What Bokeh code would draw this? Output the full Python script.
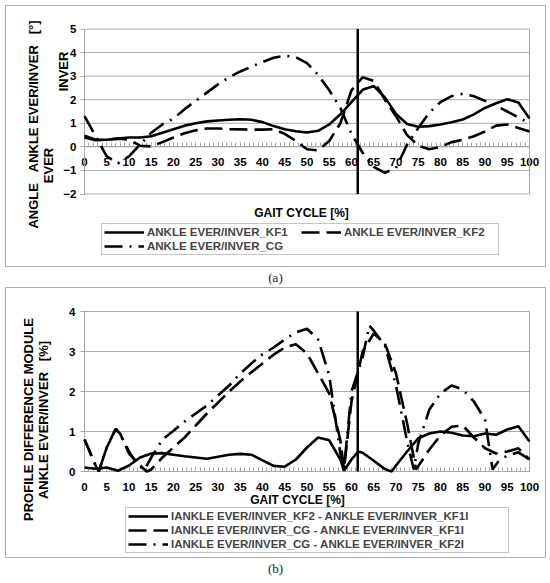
from bokeh.plotting import figure
from bokeh.models import Legend, LegendItem, SingleIntervalTicker, Range1d, LinearAxis, Label
from bokeh.core.properties import value
from bokeh.layouts import column
from bokeh.embed import file_html
from bokeh.resources import INLINE

# ---------------- data : panel (a) ----------------
gait_a = [0, 2.5, 5, 7.5, 10, 12.5, 15, 17.5, 20, 22.5, 25, 27.5, 30, 32.5, 35, 37.5, 40,
          42.5, 45, 47.5, 50, 52.5, 55, 57.5, 60, 62.5, 65, 67.5, 70, 72.5, 75, 77.5, 80,
          82.5, 85, 87.5, 90, 92.5, 95, 97.5, 100]
kf1 = [0.47, 0.30, 0.30, 0.35, 0.40, 0.40, 0.45, 0.60, 0.75, 0.90, 1.00, 1.08, 1.12, 1.15,
       1.17, 1.15, 1.05, 0.88, 0.75, 0.66, 0.61, 0.68, 0.95, 1.38, 1.90, 2.42, 2.58, 2.10,
       1.40, 0.97, 0.85, 0.88, 0.95, 1.04, 1.16, 1.38, 1.65, 1.85, 2.02, 1.88, 1.20]
kf2 = [0.40, 0.28, 0.30, 0.35, 0.30, 0.05, 0.02, 0.20, 0.40, 0.58, 0.70, 0.78, 0.78, 0.75,
       0.74, 0.73, 0.73, 0.75, 0.55, 0.25, -0.10, -0.15, 0.25, 1.00, 2.40, 2.95, 2.80, 2.00,
       1.30, 0.50, 0.05, -0.10, 0.00, 0.20, 0.30, 0.45, 0.65, 0.90, 0.95, 0.80, 0.65]
cg = [1.30, 0.45, -0.40, -0.70, -0.40, 0.10, 0.60, 0.95, 1.20, 1.60, 1.95, 2.30, 2.65, 2.95,
      3.20, 3.40, 3.60, 3.78, 3.87, 3.80, 3.55, 3.05, 2.40, 1.65, 0.55, -0.25, -0.85, -1.10,
      -0.90, 0.10, 0.80, 1.45, 1.90, 2.15, 2.25, 2.15, 1.95, 1.75, 1.50, 1.25, 1.00]

# ---------------- data : panel (b) ----------------
gait_b1 = [0, 2.5, 5, 7.5, 10, 12.5, 15, 17.5, 20, 22.5, 25, 27.5, 30, 32.5, 35, 37.5, 40,
           42.5, 45, 47.5, 50, 52.5, 55, 57.5, 58.3, 60, 61.5, 62.5, 65, 67.5, 69, 70, 72.5,
           75, 77.5, 80, 82.5, 85, 87.5, 90, 92.5, 95, 97.5, 100]
diff_kf2_kf1 = [0.10, 0.07, 0.10, 0.02, 0.15, 0.35, 0.45, 0.46, 0.42, 0.38, 0.35, 0.32, 0.37,
                0.42, 0.44, 0.42, 0.28, 0.14, 0.12, 0.30, 0.60, 0.85, 0.78, 0.30, 0.02, 0.30,
                0.50, 0.47, 0.27, 0.06, 0.00, 0.15, 0.50, 0.83, 0.95, 1.00, 0.97, 0.90, 0.88,
                0.95, 0.92, 1.05, 1.13, 0.75]
gait_b2 = [0, 2.5, 3.2, 5, 7, 8, 10, 12.5, 14, 15, 17.5, 20, 22.5, 25, 27.5, 30, 32.5, 35,
           37.5, 40, 42.5, 45, 47.5, 50, 52.5, 55, 57.5, 58.3, 60, 62.5, 65, 67.5, 70, 72.5,
           74.5, 77.5, 80, 82.5, 85, 87.5, 90, 92.5, 95, 97.5, 100]
diff_cg_kf1 = [0.80, 0.15, 0.00, 0.60, 1.05, 0.95, 0.45, 0.15, 0.00, 0.05, 0.35, 0.60, 0.85,
               1.15, 1.45, 1.72, 2.00, 2.25, 2.48, 2.70, 2.92, 3.10, 3.18, 2.95, 2.45, 1.95,
               0.78, 0.05, 1.75, 3.00, 3.45, 3.20, 2.45, 1.20, 0.05, 0.55, 0.90, 1.12, 1.15,
               0.85, 0.58, 0.45, 0.50, 0.58, 0.30]
gait_b3 = [0, 2.5, 3.2, 5, 7, 8, 10, 12, 13.5, 15, 17.5, 20, 22.5, 25, 27.5, 30, 32.5, 35,
           37.5, 40, 42.5, 45, 47.5, 50, 52.5, 55, 57.5, 58.3, 60, 62.5, 64, 65, 67.5, 70,
           72.5, 74, 75, 77.5, 80, 82.5, 85, 87.5, 90, 91.7, 93, 95, 97.5, 100]
diff_cg_kf2 = [0.80, 0.15, 0.00, 0.60, 1.07, 0.95, 0.50, 0.15, 0.05, 0.35, 0.80, 1.02, 1.25,
               1.45, 1.65, 1.90, 2.15, 2.45, 2.70, 2.93, 3.10, 3.30, 3.48, 3.57, 3.30, 2.40,
               0.45, 0.05, 2.00, 2.85, 3.65, 3.52, 3.15, 2.15, 0.75, 0.05, 0.70, 1.55, 1.95,
               2.15, 2.05, 1.75, 1.30, 0.05, 0.25, 0.40, 0.48, 0.30]

toe_off = 61.4  # vertical marker, % gait cycle

XLIM = (0, 100)
YLIM_A = (-2, 5)
YLIM_B = (0, 4)

NB = "\u00a0"
labels_a = ["ANKLE EVER/INVER_KF1", "ANKLE EVER/INVER_KF2", "ANKLE EVER/INVER_CG"]
labels_b = ["IANKLE EVER/INVER_KF2 - ANKLE EVER/INVER_KF1I",
            "IANKLE EVER/INVER_CG - ANKLE EVER/INVER_KF1I",
            "IANKLE EVER/INVER_CG - ANKLE EVER/INVER_KF2I"]
ytitle_a = [f"ANGLE{NB * 3}ANKLE EVER/INVER{NB * 3}[°]", "EVER", "INVER"]
ytitle_b = ["PROFILE DIFFERENCE MODULE", f"ANKLE EVER/INVER{NB * 3}[%]"]
xtitle = "GAIT CYCLE [%]"
captions = ["(a)", "(b)"]

FONT = "Liberation Sans"
GRID = "#a9a9a9"
DASHES = ["solid", "18 7", "18 7 2 7"]
LW = 2.6
W = 542
ORIGIN = 4                      # page offset of the block
PX_X0, PX_X1 = 84, 529          # page x of gait 0 and 100


class Panel:
    """One boxed panel; its frame is the whole box, the plot area is drawn inside it."""

    def __init__(self, top, height, ylim, py_lo, py_hi):
        self.top, self.h = top, height
        self.sx = (XLIM[1] - XLIM[0]) / (PX_X1 - PX_X0)
        self.sy = (ylim[1] - ylim[0]) / (py_lo - py_hi)
        self.py_lo, self.ylo = py_lo, ylim[0]
        fl, fr = ORIGIN + 1, ORIGIN + W - 1
        ft, fb = top + 1, top + height - 1
        xr = Range1d(self.px(fl), self.px(fr))
        yr = Range1d(self.py(fb), self.py(ft))
        p = figure(width=W, height=height, x_range=xr, y_range=yr, output_backend="svg",
                   toolbar_location=None, x_axis_type=None, y_axis_type=None, min_border=1)
        p.outline_line_color = GRID
        p.outline_line_width = 1
        p.grid.visible = False
        self.p = p

    def px(self, page_x):
        return XLIM[0] + (page_x - PX_X0) * self.sx

    def py(self, page_y):
        return self.ylo + (self.py_lo - page_y) * self.sy

    def text(self, page_x, page_y, t, angle=0, size="12px"):
        self.p.add_layout(Label(x=self.px(page_x), y=self.py(page_y), text=t, angle=angle,
                                angle_units="deg", text_align="center",
                                text_baseline="middle", text_font=FONT,
                                text_font_style="bold", text_font_size=size,
                                text_color="black"))


def style_axis(ax):
    ax.axis_line_color = GRID
    ax.major_tick_line_color = GRID
    ax.minor_tick_line_color = GRID
    ax.major_label_text_font = FONT
    ax.major_label_text_font_style = "bold"
    ax.major_label_text_font_size = "11.5px"
    ax.major_label_text_color = "black"
    ax.level = "underlay"


def build(panel, ylim, xfix, series, ylab_standoff):
    p = panel.p
    ticks = list(range(ylim[0] + 1, ylim[1]))
    p.segment(x0=XLIM[0], x1=XLIM[1], y0=ticks, y1=ticks, line_color=GRID, line_width=1)
    p.quad(left=[XLIM[0]], right=[XLIM[1]], bottom=[ylim[0]], top=[ylim[1]],
           fill_alpha=0, line_color=GRID, line_width=1)
    yax = LinearAxis(fixed_location=XLIM[0], bounds=ylim,
                     ticker=SingleIntervalTicker(interval=1, num_minor_ticks=0))
    style_axis(yax)
    yax.major_tick_out, yax.major_tick_in, yax.minor_tick_out = 4, 0, 0
    yax.major_label_standoff = ylab_standoff
    p.add_layout(yax, "left")
    xax = LinearAxis(fixed_location=xfix, bounds=XLIM,
                     ticker=SingleIntervalTicker(interval=5, num_minor_ticks=5))
    style_axis(xax)
    xax.major_tick_in, xax.major_tick_out = 4, 0
    xax.minor_tick_in, xax.minor_tick_out = 4, 0
    xax.major_label_standoff = 11
    p.add_layout(xax, "below")
    rs = [p.line(x, y, line_color="black", line_width=LW, line_dash=d)
          for (x, y), d in zip(series, DASHES)]
    p.segment(x0=[toe_off], x1=[toe_off], y0=[ylim[0]], y1=[ylim[1]],
              line_color="black", line_width=2.5)
    return rs


def legend(panel, items, loc, label_width, **kw):
    lg = Legend(items=items, location=loc,
                border_line_color="#8c8c8c", border_line_width=1, padding=2, spacing=2,
                margin=0, glyph_width=40, glyph_height=12, label_height=12,
                label_width=label_width, label_standoff=3, label_text_font=FONT,
                label_text_font_style="bold", label_text_font_size="11.5px",
                background_fill_alpha=1, **kw)
    panel.p.add_layout(lg, "center")


def caption(t):
    c = figure(width=W, height=19, x_range=Range1d(0, 1), y_range=Range1d(0, 1),
               output_backend="svg", toolbar_location=None, min_border=0,
               x_axis_type=None, y_axis_type=None)
    c.grid.visible = False
    c.outline_line_color = None
    c.text(x=[0.5], y=[0.5], text=[t], text_align="center", text_baseline="middle",
           text_font=value("Liberation Serif"), text_font_size="13px", text_color="#222222")
    return c


# ---------------- panel (a) ----------------
A = Panel(top=4, height=263, ylim=YLIM_A, py_lo=193.5, py_hi=28.5)
ra = build(A, YLIM_A, 0, [(gait_a, kf1), (gait_a, kf2), (gait_a, cg)], 4)
A.text(33, 124, ytitle_a[0], 90, "13px")
A.text(48, 165, ytitle_a[1], 90, "13px")
A.text(63, 71, ytitle_a[2], 90, "13px")
A.text(301, 212, xtitle)
legend(A, [LegendItem(label=l, renderers=[r]) for l, r in zip(labels_a, ra)],
       (101 - 5, 266 - 255), 152, orientation="horizontal", ncols=2)

# ---------------- panel (b) ----------------
B = Panel(top=286, height=272, ylim=YLIM_B, py_lo=471, py_hi=311)
rb = build(B, YLIM_B, 0, [(gait_b1, diff_kf2_kf1), (gait_b2, diff_cg_kf1),
                          (gait_b3, diff_cg_kf2)], 5)
B.text(28, 419, ytitle_b[0], 90, "13px")
B.text(43, 419.5, ytitle_b[1], 90, "13px")
B.text(297, 499, xtitle)
legend(B, [LegendItem(label=l, renderers=[r]) for l, r in zip(labels_b, rb)],
       (125 - 5, 557 - 553), 335)

layout = column(A.p, caption(captions[0]), B.p, caption(captions[1]), spacing=0,
                styles={"margin-left": f"{ORIGIN}px", "margin-top": f"{ORIGIN}px"})

open("out.html", "w").write(file_html(layout, INLINE))
